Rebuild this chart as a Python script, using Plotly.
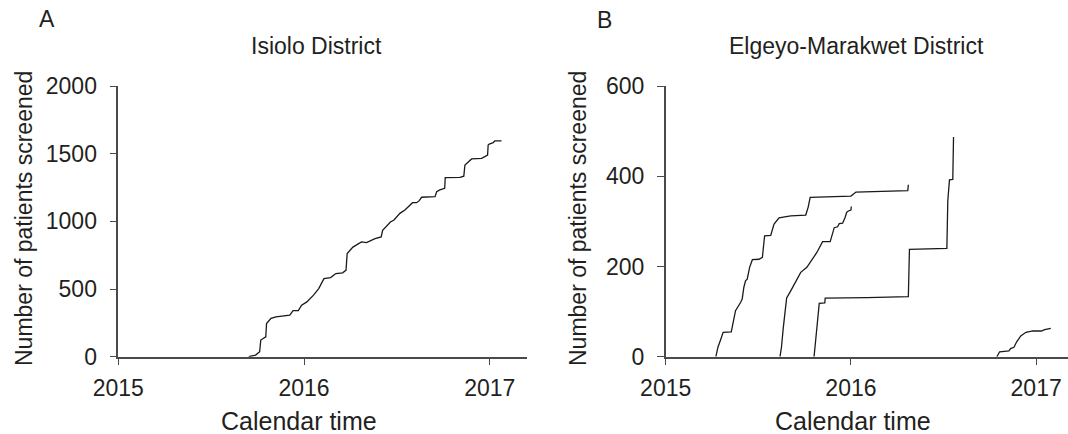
import plotly.graph_objects as go

# ---------------- data (decimal calendar years, cumulative patients) ----------------
isiolo_t = [2015.702, 2015.739, 2015.761, 2015.767, 2015.794, 2015.798, 2015.822, 2015.849,
            2015.923, 2015.941, 2015.969, 2015.987, 2016.015, 2016.051, 2016.079, 2016.107,
            2016.143, 2016.171, 2016.208, 2016.226, 2016.232, 2016.263, 2016.309, 2016.336,
            2016.382, 2016.415, 2016.423, 2016.465, 2016.484, 2016.502, 2016.516, 2016.543,
            2016.570, 2016.584, 2016.606, 2016.620, 2016.633, 2016.678, 2016.705, 2016.714,
            2016.731, 2016.757, 2016.760, 2016.839, 2016.860, 2016.866, 2016.889, 2016.902,
            2016.956, 2016.974, 2016.988, 2016.991, 2016.997, 2017.018, 2017.027, 2017.063]
isiolo_n = [0, 12, 37, 123, 147, 245, 283, 295,
            307, 340, 340, 380, 405, 455, 503, 577,
            585, 614, 620, 640, 762, 810, 848, 843,
            872, 885, 934, 995, 1010, 1040, 1059, 1084,
            1121, 1138, 1138, 1153, 1178, 1182, 1182, 1219,
            1232, 1244, 1323, 1325, 1334, 1416, 1441, 1461,
            1466, 1478, 1490, 1564, 1571, 1581, 1594, 1594]

em1_t = [2015.271, 2015.282, 2015.296, 2015.310, 2015.354, 2015.365, 2015.377, 2015.404,
         2015.413, 2015.422, 2015.431, 2015.440, 2015.453, 2015.468, 2015.504, 2015.522,
         2015.534, 2015.567, 2015.585, 2015.612, 2015.675, 2015.756, 2015.769, 2015.780,
         2015.874, 2016.000, 2016.027, 2016.307, 2016.310]
em1_n = [0, 21, 37, 54, 55, 80, 102, 120,
         128, 154, 168, 172, 198, 215, 216, 220,
         268, 269, 294, 308, 312, 314, 331, 353,
         354, 356, 365, 368, 381]

em2_t = [2015.617, 2015.625, 2015.635, 2015.643, 2015.653, 2015.675, 2015.702, 2015.729,
         2015.762, 2015.787, 2015.816, 2015.847, 2015.888, 2015.910, 2015.928, 2015.937,
         2015.955, 2015.968, 2015.977, 2015.986, 2016.000, 2016.002]
em2_n = [0, 21, 65, 95, 130, 146, 168, 187,
         198, 212, 231, 255, 255, 286, 288, 295,
         296, 308, 320, 323, 325, 333]

em3_t = [2015.801, 2015.810, 2015.819, 2015.829, 2015.859, 2015.861, 2016.087, 2016.310,
         2016.316, 2016.518, 2016.523, 2016.532, 2016.550, 2016.554]
em3_n = [0, 43, 87, 118, 119, 130, 131, 133,
         238, 240, 345, 392, 393, 487]

em4_t = [2016.788, 2016.803, 2016.853, 2016.862, 2016.880, 2016.895, 2016.917, 2016.945,
         2016.982, 2017.028, 2017.046, 2017.079]
em4_n = [0, 11, 13, 18, 21, 33, 46, 54,
         57, 57, 60, 63]

year_ticks = [2015, 2016, 2017]
year_labels = ["2015", "2016", "2017"]
isiolo_yticks = [0, 500, 1000, 1500, 2000]
em_yticks = [0, 200, 400, 600]

# ---------------- figure ----------------
W, H = 1068, 434
TXT = "#231f20"
AXC = "#4a4a4a"
FONT = "Liberation Sans, Arial, sans-serif"

fig = go.Figure()
line_style = dict(color="#1a1a1a", width=1.3)
fig.add_trace(go.Scatter(x=isiolo_t, y=isiolo_n, mode="lines", line=line_style,
                         xaxis="x", yaxis="y", showlegend=False))
for t, n in [(em1_t, em1_n), (em2_t, em2_n), (em3_t, em3_n), (em4_t, em4_n)]:
    fig.add_trace(go.Scatter(x=t, y=n, mode="lines", line=line_style,
                             xaxis="x2", yaxis="y2", showlegend=False))

def px_x(p):
    return p / W

def px_y(p):
    return 1 - p / H

y_dom = [px_y(356.7), px_y(86)]
common_ax = dict(showline=True, linecolor=AXC, linewidth=1.5, ticks="outside",
                 ticklen=7, tickwidth=1.2, tickcolor=AXC, showgrid=False, zeroline=False,
                 tickfont=dict(family=FONT, size=23, color=TXT), automargin=False)

fig.update_layout(
    width=W, height=H,
    margin=dict(l=0, r=0, t=0, b=0),
    paper_bgcolor="white", plot_bgcolor="white",
    xaxis=dict(domain=[px_x(118.3), px_x(526.6)], range=[2015, 2017.198],
               tickvals=year_ticks, ticktext=year_labels, anchor="y",
               ticklabelstandoff=3, **common_ax),
    yaxis=dict(domain=y_dom, range=[0, 2000], tickvals=isiolo_yticks, anchor="x",
               ticklabelstandoff=8, **common_ax),
    xaxis2=dict(domain=[px_x(665.7), 1.0], range=[2015, 2017.172],
                tickvals=year_ticks, ticktext=year_labels, anchor="y2",
                ticklabelstandoff=3, **common_ax),
    yaxis2=dict(domain=y_dom, range=[0, 600], tickvals=em_yticks, anchor="x2",
                ticklabelstandoff=8, **common_ax),
)

def ann(text, x, y, size, angle=0):
    fig.add_annotation(text=text, x=px_x(x), y=px_y(y), xref="paper", yref="paper",
                       xanchor="center", yanchor="middle", showarrow=False, textangle=angle,
                       font=dict(family=FONT, size=size, color=TXT))

ann("A", 46.8, 18.5, 23)
ann("B", 604.8, 19.5, 23)
ann("Isiolo District", 316, 46, 23)
ann("Elgeyo-Marakwet District", 856, 46, 23)
ann("Calendar time", 298.9, 421, 25)
ann("Calendar time", 853.3, 421, 25)
ann("Number of patients screened", 24, 219, 23, -90)
ann("Number of patients screened", 578, 219, 23, -90)

fig.write_html(
    "out.html",
    config={"displayModeBar": False},
    post_script="document.body.style.margin='0';document.body.style.overflow='hidden';",
)
